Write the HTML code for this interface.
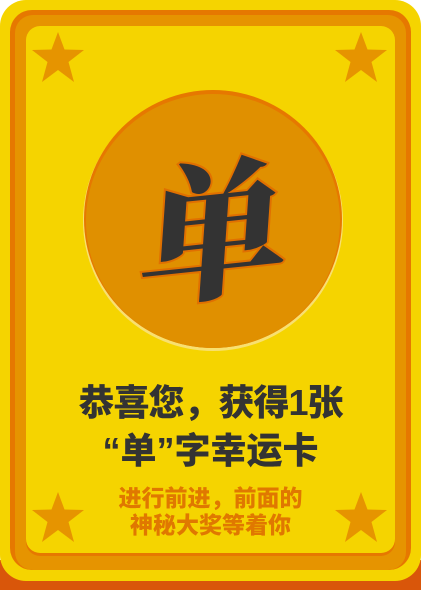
<!DOCTYPE html>
<html><head><meta charset="utf-8"><style>
html,body{margin:0;padding:0;background:#fff}
#card{position:relative;width:421px;height:590px;overflow:hidden}
.t{position:absolute;left:0;width:421px;text-align:center;font-family:"Liberation Sans","Noto Sans CJK SC",sans-serif;font-weight:900;white-space:nowrap}
</style></head><body>
<div id="card">
<svg width="421" height="590" style="position:absolute;left:0;top:0">
  <rect x="0" y="560" width="421" height="30" fill="#d9560a"/>
  <rect x="0" y="0" width="421" height="581" rx="26" fill="#f5d400"/>
  <rect x="10" y="10" width="401" height="560" rx="22" fill="#e67800"/>
  <rect x="15" y="15" width="391" height="555" rx="18" fill="#e69400"/>
  <rect x="26" y="26" width="369" height="530" rx="14" fill="#e67800"/>
  <rect x="26" y="26" width="369" height="527" rx="14" fill="#f5d400"/>
  <g>
    <g transform="translate(58,58)"><polygon points="0,-26 6.5,-8.5 26,-8 10.5,4 16,24 0,12 -16,24 -10.5,4 -26,-8 -6.5,-8.5" fill="#e69400"/></g>
    <g transform="translate(361,58)"><polygon points="0,-26 6.5,-8.5 26,-8 10.5,4 16,24 0,12 -16,24 -10.5,4 -26,-8 -6.5,-8.5" fill="#e69400"/></g>
    <g transform="translate(58,518)"><polygon points="0,-26 6.5,-8.5 26,-8 10.5,4 16,24 0,12 -16,24 -10.5,4 -26,-8 -6.5,-8.5" fill="#e69400"/></g>
    <g transform="translate(361,518)"><polygon points="0,-26 6.5,-8.5 26,-8 10.5,4 16,24 0,12 -16,24 -10.5,4 -26,-8 -6.5,-8.5" fill="#e69400"/></g>
  </g>
  <circle cx="213" cy="221" r="130" fill="#f8e070"/>
  <circle cx="213" cy="219" r="129" fill="#e67800"/>
  <circle cx="213" cy="221" r="127" fill="#e09000"/>
  <g transform="translate(216,222) rotate(-6) skewX(-10)">
    <text x="0" y="0" text-anchor="middle" dominant-baseline="central" font-family="'Noto Serif CJK SC',serif" font-weight="900" font-size="150" fill="#333" stroke="#e07000" stroke-width="4" paint-order="stroke">单</text>
  </g>
</svg>
<div class="t" style="top:380px;font-size:36px;line-height:46px;color:#333;letter-spacing:-1px">恭喜您，获得1张</div>
<div class="t" style="top:428px;font-size:36px;line-height:46px;color:#333">“单”字幸运卡</div>
<div class="t" style="top:484px;font-size:23px;line-height:28px;color:#e07800">进行前进，前面的</div>
<div class="t" style="top:511px;font-size:23px;line-height:28px;color:#e07800">神秘大奖等着你</div>
</div>
</body></html>
